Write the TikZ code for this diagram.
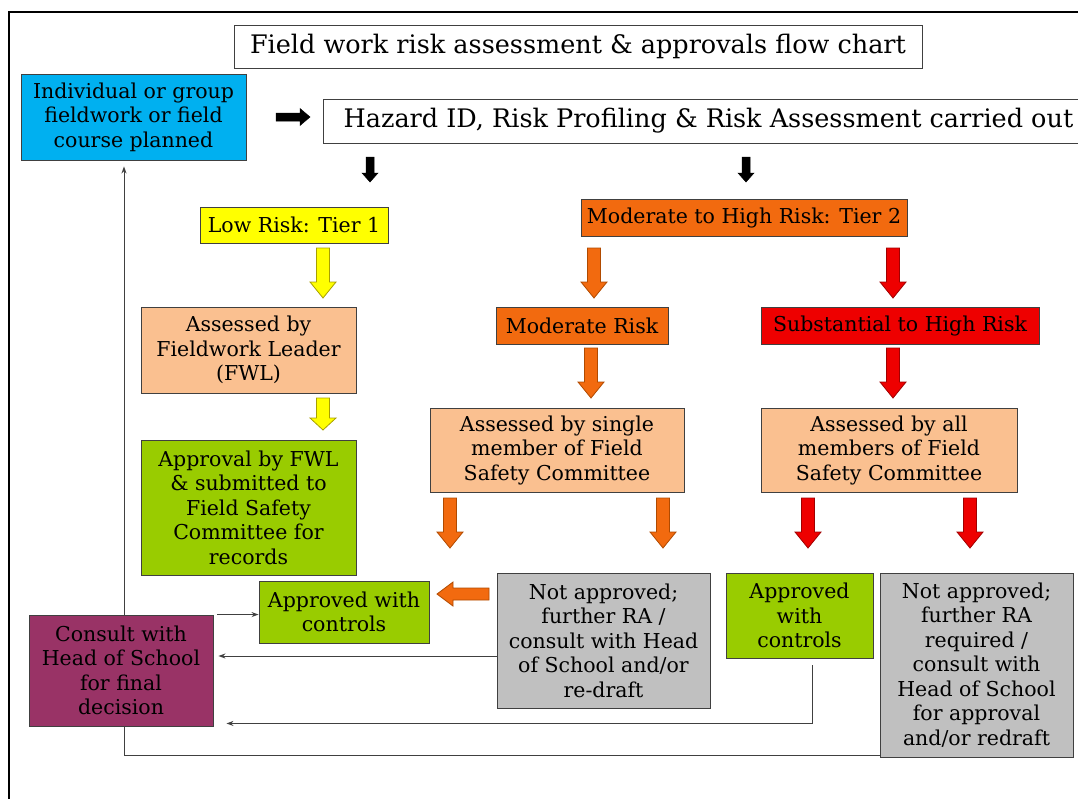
\documentclass[tikz,border=0pt]{standalone}
\usepackage{fontspec}
\setmainfont{DejaVu Serif}
\usetikzlibrary{calc,arrows.meta,backgrounds}
\definecolor{cblue}{HTML}{00B0F0}
\definecolor{cyel}{HTML}{FFFF00}
\definecolor{cyelD}{HTML}{A8A000}
\definecolor{corg}{HTML}{F26A0F}
\definecolor{corgD}{HTML}{B04A00}
\definecolor{cred}{HTML}{EE0000}
\definecolor{credD}{HTML}{A00000}
\definecolor{cpeach}{HTML}{FAC090}
\definecolor{cgreen}{HTML}{99CC00}
\definecolor{cgrey}{HTML}{C0C0C0}
\definecolor{cplum}{HTML}{993366}
\definecolor{cline}{HTML}{404040}
% block arrow: style, from, to, head length, shaft half width, head half width
\newcommand\blockarrow[6]{%
  \coordinate (ba) at #2; \coordinate (bb) at #3; \coordinate (bc) at ($(bb)!#4!(ba)$);
  \draw[#1] ($(ba)!#5!90:(bb)$) -- ($(bc)!#5!90:(bb)$) -- ($(bc)!#6!90:(bb)$) -- (bb)
    -- ($(bc)!#6!-90:(bb)$) -- ($(bc)!#5!-90:(bb)$) -- ($(ba)!#5!-90:(bb)$) -- cycle;}
\tikzset{
  box/.style={draw=cline, line width=0.9pt, align=center, inner sep=0pt, text=black,
    font=\fontsize{20.5}{24.5}\selectfont},
  bigtext/.style={font=\fontsize{25.5}{28}\selectfont},
  conn/.style={draw=cline, line width=0.9pt, -{Stealth[length=7pt,width=5pt]}},
  yarr/.style={fill=cyel, draw=cyelD, line width=0.8pt},
  oarr/.style={fill=corg, draw=corgD, line width=0.8pt},
  rarr/.style={fill=cred, draw=credD, line width=0.8pt},
  barr/.style={fill=black, draw=black, line width=0.5pt},
}
\begin{document}
\begin{tikzpicture}[x=1pt,y=-1pt]
\useasboundingbox (0,0) rectangle (1078,798);
\clip (0,0) rectangle (1078,798);
\draw[line width=2pt] (9,805) -- (9,12) -- (1085,12);

\node[box, bigtext, minimum width=688pt, minimum height=43pt] (title) at (578,46.5)
  {Field work risk assessment \& approvals flow chart};
\node[box, fill=cblue, minimum width=225pt, minimum height=86pt] (plan) at (133.5,117)
  {Individual or group\\fieldwork or field\\course planned};
\node[box, bigtext, anchor=west, minimum width=770pt, minimum height=44pt] (hazard) at (323,121)
  {Hazard ID, Risk Profiling \& Risk Assessment carried out};
\node[box, fill=cyel, minimum width=188pt, minimum height=36pt] (low) at (294,225) {Low Risk: Tier 1};
\node[box, fill=corg, minimum width=326pt, minimum height=37pt] (modhigh) at (744,217.5) {Moderate to High Risk: Tier 2};
\node[box, fill=cpeach, minimum width=215pt, minimum height=86pt] (fwl) at (248.5,350)
  {Assessed by\\Fieldwork Leader\\(FWL)};
\node[box, fill=corg, minimum width=172pt, minimum height=37pt] (mod) at (582,325.5) {Moderate Risk};
\node[box, fill=cred, minimum width=278pt, minimum height=37pt] (subst) at (900,325.5) {Substantial to High Risk};
\node[box, fill=cgreen, minimum width=215pt, minimum height=135pt] (apprfwl) at (248.5,507.5)
  {Approval by FWL\\\& submitted to\\Field Safety\\Committee for\\records};
\node[box, fill=cpeach, minimum width=254pt, minimum height=84pt] (single) at (557,450)
  {Assessed by single\\member of Field\\Safety Committee};
\node[box, fill=cpeach, minimum width=256pt, minimum height=84pt] (all) at (889,450)
  {Assessed by all\\members of Field\\Safety Committee};
\node[box, fill=cgreen, minimum width=170pt, minimum height=62pt] (appr1) at (344,612)
  {Approved with\\controls};
\node[box, fill=cgrey, minimum width=213pt, minimum height=135pt] (notap1) at (603.5,640.5)
  {Not approved;\\further RA /\\consult with Head\\of School and/or\\re-draft};
\node[box, fill=cgreen, minimum width=147pt, minimum height=85pt] (appr2) at (799.5,615.5)
  {Approved\\with\\controls};
\node[box, fill=cgrey, minimum width=193pt, minimum height=184pt] (notap2) at (976.5,665)
  {Not approved;\\further RA\\required /\\consult with\\Head of School\\for approval\\and/or redraft};
\node[box, fill=cplum, minimum width=184pt, minimum height=111pt] (consult) at (121,670.5)
  {Consult with\\Head of School\\for final\\decision};

% block arrows
\blockarrow{barr}{(276,117)}{(310,117)}{10pt}{4pt}{8.5pt}
\blockarrow{barr}{(370,157)}{(370,182)}{9pt}{4pt}{8pt}
\blockarrow{barr}{(746,157)}{(746,182)}{9pt}{4pt}{8pt}
\blockarrow{yarr}{(323,248)}{(323,298)}{16pt}{6.5pt}{13pt}
\blockarrow{yarr}{(323,398)}{(323,430)}{12pt}{6.5pt}{13pt}
\blockarrow{oarr}{(594,248)}{(594,298)}{16pt}{6.5pt}{13pt}
\blockarrow{rarr}{(893,248)}{(893,298)}{16pt}{6.5pt}{13pt}
\blockarrow{oarr}{(591,348)}{(591,398)}{16pt}{6.5pt}{13pt}
\blockarrow{rarr}{(893,348)}{(893,398)}{16pt}{6.5pt}{13pt}
\blockarrow{oarr}{(450,498)}{(450,548)}{16pt}{6.5pt}{13pt}
\blockarrow{oarr}{(663,498)}{(663,548)}{16pt}{6.5pt}{13pt}
\blockarrow{rarr}{(808,498)}{(808,548)}{16pt}{6.5pt}{13pt}
\blockarrow{rarr}{(970,498)}{(970,548)}{16pt}{6.5pt}{13pt}
\blockarrow{oarr}{(489,594)}{(437,594)}{16pt}{6pt}{12pt}

% thin connectors
\draw[conn] ([xshift=4pt]consult.north east) -- (consult.north east -| appr1.west);
\draw[conn, shorten >=5pt] ([yshift=-15.5pt]notap1.west) -- ([yshift=-15.5pt]notap1.west -| consult.east);
\draw[conn] ([xshift=12.5pt,yshift=-7pt]appr2.south) |- ([xshift=13pt,yshift=3pt]consult.south east);
\begin{scope}[on background layer]
\draw[conn] ([yshift=2pt]notap2.south west) -| ([xshift=-9.5pt,yshift=-6pt]plan.south);
\end{scope}
\end{tikzpicture}
\end{document}
